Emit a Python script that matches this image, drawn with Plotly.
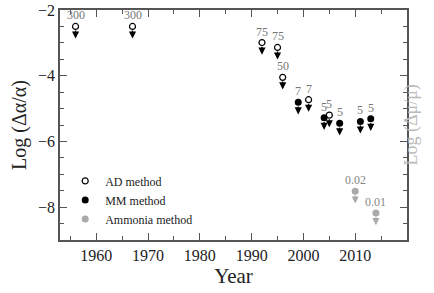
import plotly.graph_objects as go

# Data
ad_years = [1956, 1967, 1992, 1995, 1996, 2001, 2005]
ad_vals = [-2.5, -2.5, -2.99, -3.14, -4.05, -4.73, -5.2]
ad_labels = ["300", "300", "75", "75", "50", "7", "5"]

mm_years = [1999, 2004, 2007, 2011, 2013]
mm_vals = [-4.81, -5.28, -5.45, -5.39, -5.31]
mm_labels = ["7", "5", "5", "5", "5"]

am_years = [2010, 2014]
am_vals = [-7.52, -8.18]
am_labels = ["0.02", "0.01"]

FONT = "Liberation Serif, serif"
AX = "#555555"
GRAY = "#aaaaaa"

fig = go.Figure()

series = [
    ("AD method", ad_years, ad_vals, ad_labels, dict(color="white", size=6, line=dict(color="black", width=1.2)), "black", "#777777"),
    ("MM method", mm_years, mm_vals, mm_labels, dict(color="black", size=7, line=dict(color="black", width=0)), "black", "#777777"),
    ("Ammonia method", am_years, am_vals, am_labels, dict(color=GRAY, size=7, line=dict(color=GRAY, width=0)), GRAY, "#888888"),
]

annotations = []
for name, xs, ys, labs, mk, arrow_col, lab_col in series:
    for x, y, lab in zip(xs, ys, labs):
        annotations.append(dict(
            x=x, y=y - 0.37, ax=x, ay=y - 0.08, xref="x", yref="y", axref="x", ayref="y",
            showarrow=True, arrowhead=2, arrowsize=1.1, arrowwidth=1.3, arrowcolor=arrow_col, text=""))
        annotations.append(dict(
            x=x, y=y, xref="x", yref="y", text=lab, showarrow=False, yshift=11,
            font=dict(family=FONT, size=12, color=lab_col)))

for name, xs, ys, labs, mk, arrow_col, lab_col in series:
    fig.add_trace(go.Scatter(x=xs, y=ys, mode="markers", name=name, marker=mk, cliponaxis=False))

fig.add_trace(go.Scatter(x=[None], y=[None], yaxis="y2", showlegend=False))

annotations.append(dict(
    xref="paper", yref="paper", x=1.0, y=0.5, xshift=16, text="Log (Δμ/μ)", textangle=-90,
    showarrow=False, font=dict(family=FONT, size=18, color="#bbbbbb")))

fig.update_layout(
    width=434, height=293,
    margin=dict(l=60, r=27, t=10, b=53),
    paper_bgcolor="white", plot_bgcolor="white",
    font=dict(family=FONT, size=14, color="#222222"),
    showlegend=True,
    legend=dict(x=0.015, y=0.32, xanchor="left", yanchor="top", bgcolor="rgba(0,0,0,0)",
                font=dict(family=FONT, size=12, color="#222222"), tracegroupgap=0,
                itemsizing="trace"),
    xaxis=dict(range=[1953, 2020], tickvals=[1960, 1970, 1980, 1990, 2000, 2010],
               ticks="inside", ticklen=7, tickwidth=1.4, tickcolor=AX,
               minor=dict(dtick=5, tick0=1955, ticks="inside", ticklen=4, tickwidth=1.2, tickcolor=AX),
               showline=True, linecolor=AX, linewidth=1.5, mirror="ticks",
               showgrid=False, zeroline=False, automargin=False,
               tickfont=dict(family=FONT, size=16),
               title=dict(text="Year", font=dict(family=FONT, size=21), standoff=2)),
    yaxis=dict(range=[-9, -2], tickvals=[-8, -6, -4, -2],
               ticks="inside", ticklen=7, tickwidth=1.4, tickcolor=AX,
               minor=dict(dtick=0.5, tick0=-9, ticks="inside", ticklen=4, tickwidth=1.2, tickcolor=AX),
               showline=True, linecolor=AX, linewidth=1.5, mirror="ticks",
               showgrid=False, zeroline=False, automargin=False,
               tickfont=dict(family=FONT, size=16),
               title=dict(text="Log (Δα/α)", font=dict(family=FONT, size=20), standoff=6)),
    yaxis2=dict(range=[-9, -2], overlaying="y", side="right", showticklabels=False,
                showgrid=False, zeroline=False, ticks="", automargin=False),
    annotations=annotations,
)

fig.write_html("out.html", config={"displayModeBar": False},
               post_script="document.body.style.margin='0';document.body.style.overflow='hidden';")
